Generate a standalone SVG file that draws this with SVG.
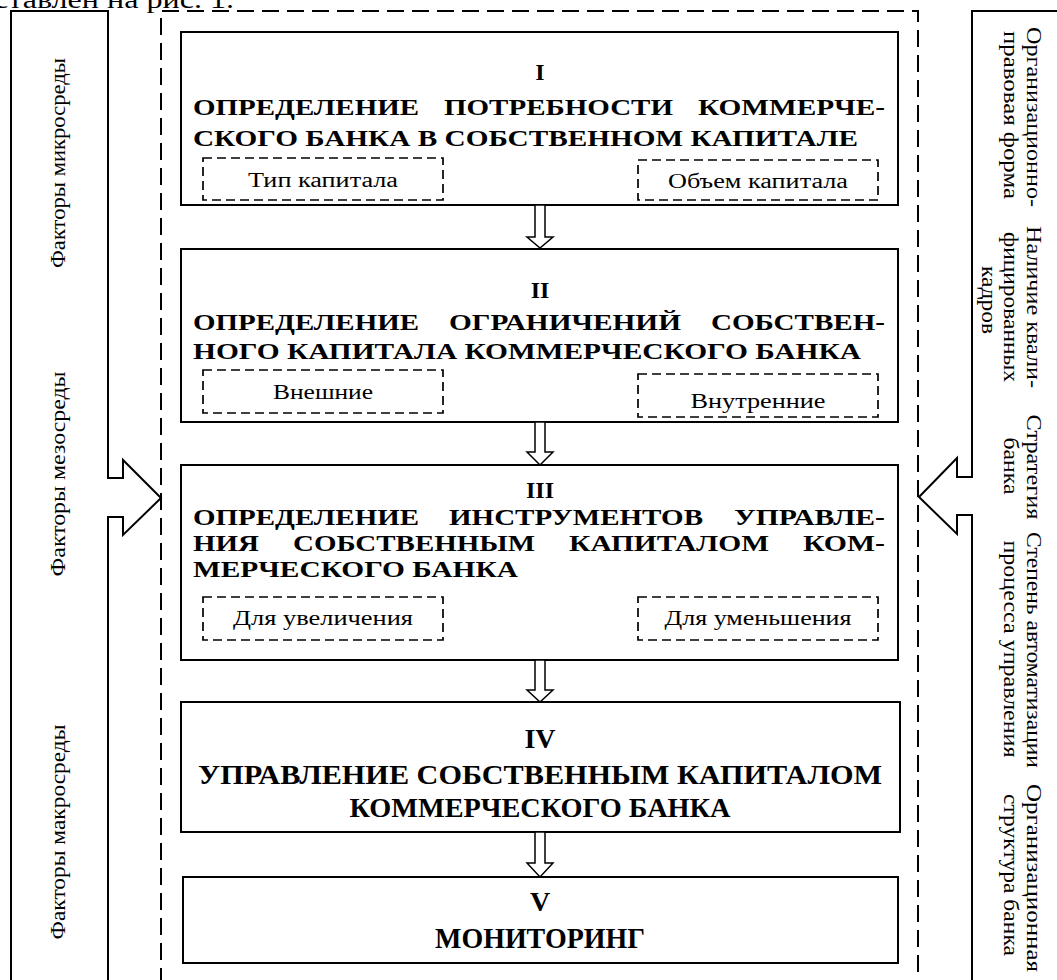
<svg xmlns="http://www.w3.org/2000/svg" width="1057" height="980" viewBox="0 0 1057 980">
<style>
.box{fill:none;stroke:#000;stroke-width:2}
.dash{fill:none;stroke:#000;stroke-width:1.7;stroke-dasharray:9 5}
.cont{fill:none;stroke:#000;stroke-width:2;stroke-dasharray:17 8}
.pan{fill:none;stroke:#000;stroke-width:2;stroke-linejoin:miter}
.arr{fill:#fff;stroke:#000;stroke-width:1.5}
.b{font-family:"Liberation Serif","Times New Roman",serif;font-weight:bold;font-size:24px;fill:#000}
.b2{font-family:"Liberation Serif","Times New Roman",serif;font-weight:bold;font-size:28px;fill:#000}
.r{font-family:"Liberation Serif","Times New Roman",serif;font-size:20px;fill:#000}
.v{font-family:"Liberation Serif","Times New Roman",serif;font-size:21px;fill:#000}
.m{text-anchor:middle}
</style>
<rect width="1057" height="980" fill="#fff"/>
<text class="r" x="-6" y="8" style="font-size:26px" textLength="240" lengthAdjust="spacingAndGlyphs">ставлен на рис. 1.</text>

<g id="container"><path class="cont" d="M161,985 V11 H918 V985"/></g>

<g id="left-panel">
<path class="pan" d="M11,990 V11 H108 V478 H123 V460 L161,498 L123,535 V517 H108 V990"/>
<text class="v m" transform="translate(65,163) rotate(-90)" textLength="210" lengthAdjust="spacingAndGlyphs">Факторы микросреды</text>
<text class="v m" transform="translate(65,474) rotate(-90)" textLength="205" lengthAdjust="spacingAndGlyphs">Факторы мезосреды</text>
<text class="v m" transform="translate(65,832) rotate(-90)" textLength="215" lengthAdjust="spacingAndGlyphs">Факторы макросреды</text>
</g>

<g id="right-panel">
<path class="pan" d="M1065,11 H972 V477 H957 V458 L919,497 L957,534 V515 H972 V990"/>
<text class="v m" transform="translate(1027,117) rotate(90)" textLength="180" lengthAdjust="spacingAndGlyphs">Организационно-</text>
<text class="v m" transform="translate(1004,115) rotate(90)" textLength="168" lengthAdjust="spacingAndGlyphs">правовая форма</text>
<text class="v m" transform="translate(1027,307) rotate(90)" textLength="162" lengthAdjust="spacingAndGlyphs">Наличие квали-</text>
<text class="v m" transform="translate(1004,307) rotate(90)" textLength="150" lengthAdjust="spacingAndGlyphs">фицированных</text>
<text class="v m" transform="translate(982,300) rotate(90)" textLength="68" lengthAdjust="spacingAndGlyphs">кадров</text>
<text class="v m" transform="translate(1027,467) rotate(90)" textLength="105" lengthAdjust="spacingAndGlyphs">Стратегия</text>
<text class="v m" transform="translate(1004,466) rotate(90)" textLength="57" lengthAdjust="spacingAndGlyphs">банка</text>
<text class="v m" transform="translate(1027,650) rotate(90)" textLength="236" lengthAdjust="spacingAndGlyphs">Степень автоматизации</text>
<text class="v m" transform="translate(1004,649) rotate(90)" textLength="217" lengthAdjust="spacingAndGlyphs">процесса управления</text>
<text class="v m" transform="translate(1027,878) rotate(90)" textLength="188" lengthAdjust="spacingAndGlyphs">Организационная</text>
<text class="v m" transform="translate(1004,875) rotate(90)" textLength="162" lengthAdjust="spacingAndGlyphs">структура банка</text>
</g>

<g id="box1">
<rect class="box" x="181" y="32" width="717" height="173"/>
<text class="b m" x="540" y="80">I</text>
<text class="b" x="193" y="115" textLength="226" lengthAdjust="spacingAndGlyphs">ОПРЕДЕЛЕНИЕ</text>
<text class="b" x="444" y="115" textLength="229" lengthAdjust="spacingAndGlyphs">ПОТРЕБНОСТИ</text>
<text class="b" x="698" y="115" textLength="187" lengthAdjust="spacingAndGlyphs">КОММЕРЧЕ-</text>
<text class="b" x="193" y="146" textLength="665" lengthAdjust="spacingAndGlyphs">СКОГО БАНКА В СОБСТВЕННОМ КАПИТАЛЕ</text>
<rect class="dash" x="203" y="158" width="240" height="42"/>
<text class="r m" x="323" y="187" textLength="150" lengthAdjust="spacingAndGlyphs">Тип капитала</text>
<rect class="dash" x="638" y="160" width="240" height="40"/>
<text class="r m" x="758" y="188" textLength="180" lengthAdjust="spacingAndGlyphs">Объем капитала</text>
</g>

<g id="box2">
<rect class="box" x="181" y="249" width="717" height="173"/>
<text class="b m" x="540" y="298">II</text>
<text class="b" x="193" y="330" textLength="226" lengthAdjust="spacingAndGlyphs">ОПРЕДЕЛЕНИЕ</text>
<text class="b" x="449" y="330" textLength="232" lengthAdjust="spacingAndGlyphs">ОГРАНИЧЕНИЙ</text>
<text class="b" x="711" y="330" textLength="174" lengthAdjust="spacingAndGlyphs">СОБСТВЕН-</text>
<text class="b" x="193" y="359" textLength="668" lengthAdjust="spacingAndGlyphs">НОГО КАПИТАЛА КОММЕРЧЕСКОГО БАНКА</text>
<rect class="dash" x="203" y="370" width="240" height="43"/>
<text class="r m" x="323" y="399" textLength="100" lengthAdjust="spacingAndGlyphs">Внешние</text>
<rect class="dash" x="638" y="374" width="240" height="43"/>
<text class="r m" x="758" y="408" textLength="135" lengthAdjust="spacingAndGlyphs">Внутренние</text>
</g>

<g id="box3">
<rect class="box" x="181" y="465" width="717" height="195"/>
<text class="b m" x="540" y="498">III</text>
<text class="b" x="193" y="525" textLength="226" lengthAdjust="spacingAndGlyphs">ОПРЕДЕЛЕНИЕ</text>
<text class="b" x="449" y="525" textLength="254" lengthAdjust="spacingAndGlyphs">ИНСТРУМЕНТОВ</text>
<text class="b" x="734" y="525" textLength="151" lengthAdjust="spacingAndGlyphs">УПРАВЛЕ-</text>
<text class="b" x="193" y="551" textLength="66" lengthAdjust="spacingAndGlyphs">НИЯ</text>
<text class="b" x="293" y="551" textLength="242" lengthAdjust="spacingAndGlyphs">СОБСТВЕННЫМ</text>
<text class="b" x="569" y="551" textLength="200" lengthAdjust="spacingAndGlyphs">КАПИТАЛОМ</text>
<text class="b" x="803" y="551" textLength="82" lengthAdjust="spacingAndGlyphs">КОМ-</text>
<text class="b" x="193" y="577" textLength="325" lengthAdjust="spacingAndGlyphs">МЕРЧЕСКОГО БАНКА</text>
<rect class="dash" x="203" y="597" width="240" height="43"/>
<text class="r m" x="323" y="625" textLength="180" lengthAdjust="spacingAndGlyphs">Для увеличения</text>
<rect class="dash" x="638" y="597" width="240" height="43"/>
<text class="r m" x="758" y="625" textLength="187" lengthAdjust="spacingAndGlyphs">Для уменьшения</text>
</g>

<g id="box4">
<rect class="box" x="181" y="702" width="719" height="130"/>
<text class="b2 m" x="540" y="748">IV</text>
<text class="b2 m" x="540" y="784" textLength="684" lengthAdjust="spacingAndGlyphs">УПРАВЛЕНИЕ СОБСТВЕННЫМ КАПИТАЛОМ</text>
<text class="b2 m" x="540" y="817" textLength="381" lengthAdjust="spacingAndGlyphs">КОММЕРЧЕСКОГО БАНКА</text>
</g>

<g id="box5">
<rect class="box" x="183" y="877" width="715" height="86"/>
<text class="b2 m" x="540" y="911">V</text>
<text class="b2 m" x="540" y="948" style="font-size:29px" textLength="210" lengthAdjust="spacingAndGlyphs">МОНИТОРИНГ</text>
</g>

<g id="connectors">
<path class="arr" d="M535,205 V237 H527 L540,248 L553,237 H545 V205 Z"/>
<path class="arr" d="M535,422 V452 H527 L540,465 L553,452 H545 V422 Z"/>
<path class="arr" d="M535,660 V690 H527 L540,702 L553,690 H545 V660 Z"/>
<path class="arr" d="M535,832 V863 H527 L540,877 L553,863 H545 V832 Z"/>
</g>
</svg>
